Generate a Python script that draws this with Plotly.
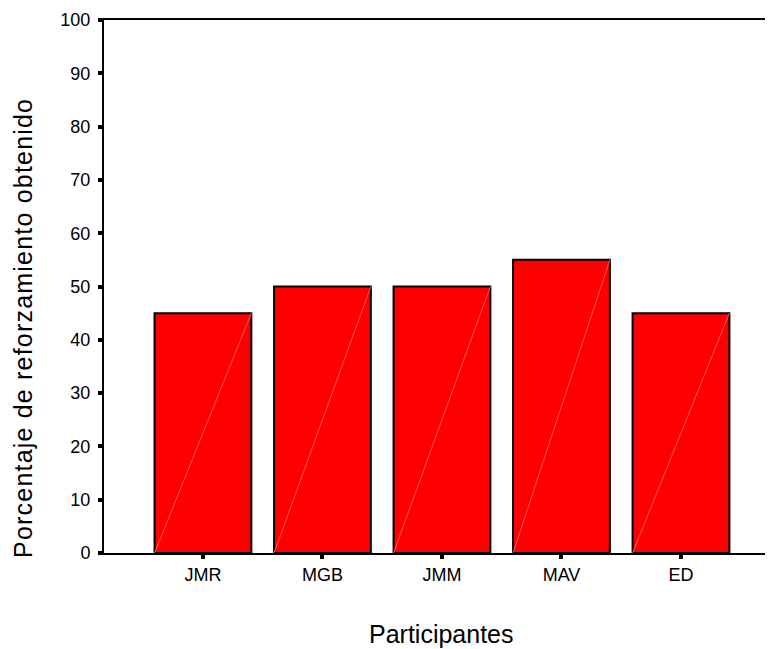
import plotly.graph_objects as go

categories = ["JMR", "MGB", "JMM", "MAV", "ED"]
values = [45, 50, 50, 55, 45]
y_ticks = [0, 10, 20, 30, 40, 50, 60, 70, 80, 90, 100]

BAR_W = 0.81
xs = list(range(len(categories)))

fig = go.Figure()
fig.add_trace(go.Bar(
    x=xs, y=values,
    marker=dict(color="#ff0000", line=dict(color="black", width=2)),
    width=BAR_W,
))

# faint diagonal hatch line inside each bar (bottom-left to top-right)
for xi, v in zip(xs, values):
    fig.add_shape(type="line", xref="x", yref="y",
                  x0=xi - BAR_W / 2, y0=0, x1=xi + BAR_W / 2, y1=v,
                  line=dict(color="#ff5a5a", width=1))

fig.update_layout(
    width=765, height=641,
    margin=dict(l=96, r=0, t=12, b=96),
    paper_bgcolor="white", plot_bgcolor="white",
    showlegend=False,
    font=dict(family="Liberation Sans, Arial, sans-serif", color="black"),
    xaxis=dict(
        range=[-0.828, 4.77],
        tickvals=xs, ticktext=categories,
        showline=True, linecolor="black", linewidth=2, mirror=True,
        ticks="outside", ticklen=4, tickwidth=4, tickcolor="black",
        tickfont=dict(size=18), showgrid=False, zeroline=False,
        automargin=False,
    ),
    yaxis=dict(
        range=[0, 100], tickvals=y_ticks,
        showline=True, linecolor="black", linewidth=2,
        ticks="outside", ticklen=4, tickwidth=4, tickcolor="black",
        tickfont=dict(size=18), showgrid=False, zeroline=False,
        ticklabelstandoff=4, automargin=False,
    ),
    annotations=[
        dict(text="Participantes", xref="paper", yref="paper",
             x=0.505, y=-0.152, xanchor="center", yanchor="middle",
             showarrow=False, font=dict(size=25)),
        dict(text='<span style="letter-spacing:1.2px">Porcentaje de reforzamiento obtenido</span>',
             xref="paper", yref="paper",
             x=-0.122, y=0.423, xanchor="center", yanchor="middle", textangle=-90,
             showarrow=False, font=dict(size=25)),
    ],
)

fig.write_html("out.html")
